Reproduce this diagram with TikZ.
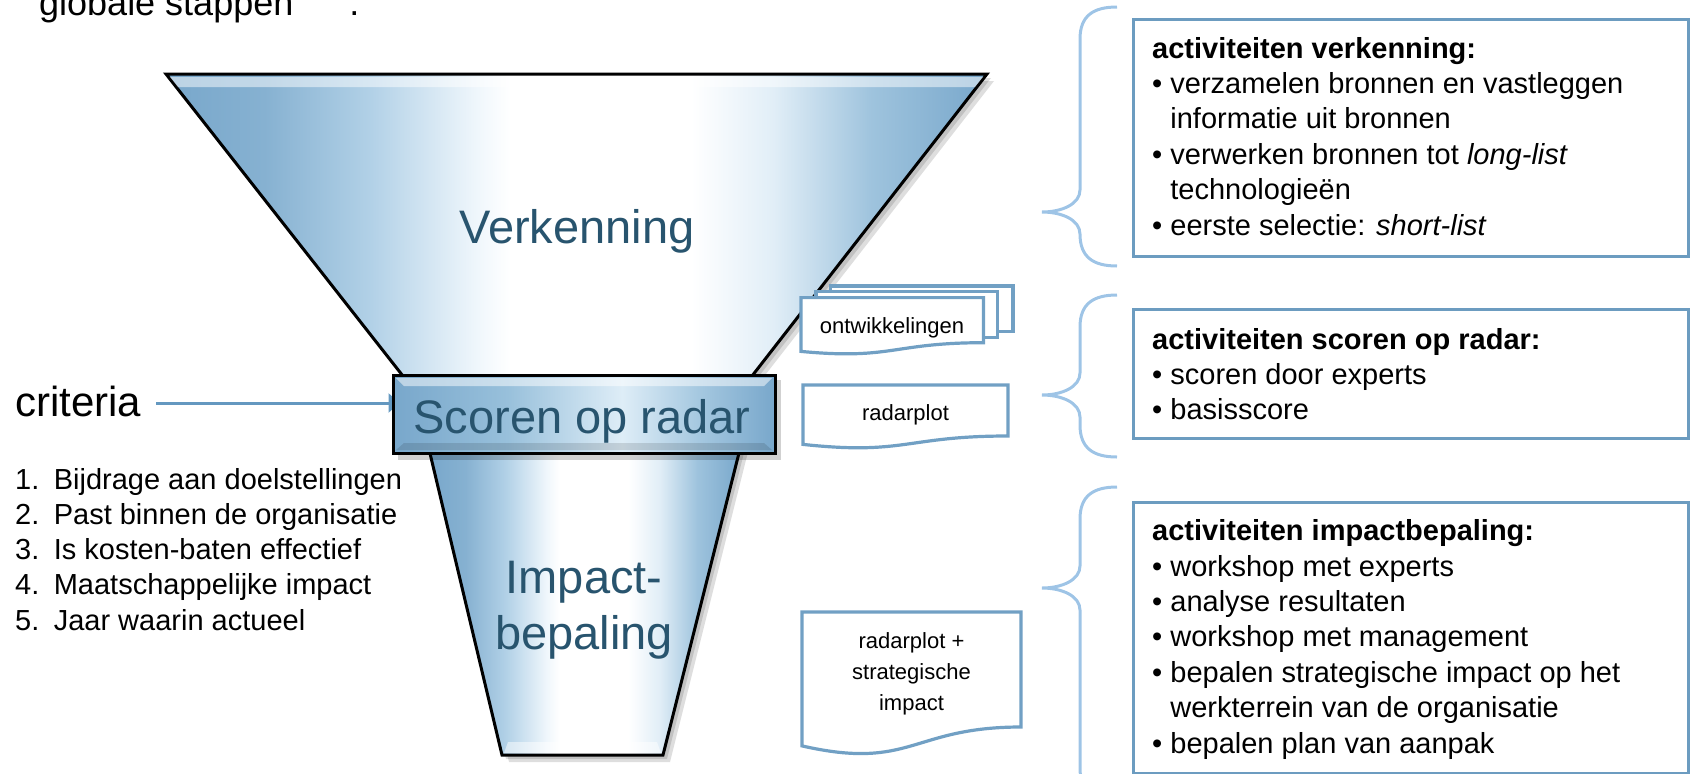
\documentclass[tikz,border=0pt]{standalone}
\usepackage{fontspec}
\setmainfont{Liberation Sans}
\usetikzlibrary{arrows.meta,backgrounds}
\definecolor{fEdge}{RGB}{120,167,203}
\definecolor{fA}{RGB}{134,177,209}
\definecolor{fB}{RGB}{178,209,231}
\definecolor{fC}{RGB}{240,247,252}
\definecolor{fD}{RGB}{225,238,247}
\definecolor{fE}{RGB}{158,195,221}
\definecolor{bA}{RGB}{152,192,219}
\definecolor{bB}{RGB}{222,237,247}
\definecolor{bC}{RGB}{165,200,224}
\definecolor{labelc}{RGB}{40,84,110}
\definecolor{docc}{RGB}{113,160,196}
\definecolor{boxc}{RGB}{108,156,192}
\definecolor{bracec}{RGB}{158,196,230}
\definecolor{arrc}{RGB}{100,152,192}
\pgfdeclarehorizontalshading{funnelshade}{100bp}{color(0bp)=(fEdge); color(25bp)=(fEdge); color(31bp)=(fA); color(37.5bp)=(fB); color(44bp)=(fC); color(46bp)=(white); color(57bp)=(white); color(62bp)=(fD); color(68bp)=(fE); color(75bp)=(fEdge); color(100bp)=(fEdge)}
\pgfdeclarehorizontalshading{bandshade}{100bp}{color(0bp)=(fEdge); color(25bp)=(fEdge); color(40bp)=(bA); color(55bp)=(bB); color(65bp)=(bC); color(75bp)=(fEdge); color(100bp)=(fEdge)}
\newcommand\bracedraw[3]{\draw[bracepath] (1117,#1) .. controls (1093,#1) and (1080,#1+9) .. (1080,#1+32) -- (1080,#2-22) .. controls (1080,#2-8) and (1062,#2) .. (1042,#2) .. controls (1062,#2) and (1080,#2+8) .. (1080,#2+22) -- (1080,#3-32) .. controls (1080,#3-9) and (1093,#3) .. (1117,#3);}
\newcommand\litem[1]{\makebox[38.6pt][l]{#1}}
\newcommand\bul{\textbullet\ }
\newcommand\ind{\phantom{\textbullet\ }}
\begin{document}
\begin{tikzpicture}[x=1pt,y=-1pt,
  lbl/.style={text=labelc, font=\fontsize{47}{56}\selectfont, inner sep=0pt},
  outl/.style={draw=black, line width=3pt, line join=miter},
  shadowA/.style={fill=black, fill opacity=0.13},
  bevL/.style={fill=white, fill opacity=0.5},
  bevD/.style={fill=black, fill opacity=0.12},
  doc/.style={draw=docc, line width=3.2pt, fill=white, line join=miter},
  doctext/.style={font=\fontsize{22}{31}\selectfont, inner sep=0pt, align=center},
  actbox/.style={draw=boxc, line width=3pt, inner sep=0pt, anchor=north west, minimum width=555pt},
  acttext/.style={font=\fontsize{29}{35.4}\selectfont, inner sep=0pt, align=left, anchor=base west},
  bracepath/.style={draw=bracec, line width=3pt},
  critarrow/.style={draw=arrc, line width=3pt, -{Triangle[length=11pt,width=19pt]}},
  plain/.style={inner sep=0pt},
  bandnode/.style={draw=black, line width=3pt, shade, shading=bandshade, inner sep=0pt, minimum width=382pt, minimum height=78pt}
]
\useasboundingbox (0,0) rectangle (1690,774);

% title (cut at top)
\node[plain, anchor=base west, font=\fontsize{36}{40}\selectfont] (title) at (39,15) {globale stappen”\hspace{44pt}.};

% criteria
\node[plain, anchor=base west, font=\fontsize{42}{50}\selectfont] (crit) at (15,416) {criteria};
\coordinate (cs) at ([xshift=15pt,yshift=13pt]crit.base east);

% shadows
\begin{scope}[shift={(4,4)}]
\fill[shadowA] (166,74) -- (987,74) -- (745,385) -- (410,385) -- cycle;
\fill[shadowA] (428,445) -- (741,445) -- (663,755) -- (502,755) -- cycle;
\end{scope}
\begin{scope}[shift={(7,7)}]
\fill[shadowA] (166,74) -- (987,74) -- (745,385) -- (410,385) -- cycle;
\fill[shadowA] (428,445) -- (741,445) -- (663,755) -- (502,755) -- cycle;
\end{scope}

% top funnel
\path[shade, shading=funnelshade, outl] (166,74) -- (987,74) -- (745,385) -- (410,385) -- cycle;
\fill[bevL] (170,77) -- (983,77) -- (975,87) -- (178,87) -- cycle;
% bottom funnel
\path[shade, shading=funnelshade, outl] (428,445) -- (741,445) -- (663,755) -- (502,755) -- cycle;
\fill[bevL] (504,753) -- (661,753) -- (657,742) -- (508,742) -- cycle;

% band
\fill[black, fill opacity=0.18] (398,380) rectangle (781,460);
\node[bandnode] (band) at (584,414) {};
\path (cs -| band.west) coordinate (ce);
\fill[bevL] (396,378) -- (772,378) -- (764,386) -- (404,386) -- cycle;
\fill[bevD] (396,450) -- (772,450) -- (764,443) -- (404,443) -- cycle;

% criteria arrow, tip hidden under the band
\begin{pgfonlayer}{background}
\draw[critarrow] (cs) -- ([xshift=8pt]ce);
\end{pgfonlayer}

% labels
\node[lbl, anchor=base] (verk) at (577,243) {Verkenning};
\node[lbl, anchor=base] (scor) at (582,433) {Scoren op radar};
\node[lbl, anchor=base, align=center] (imp) at (584,649) {Impact-\\bepaling};

% criteria list (anchor = baseline of last line)
\node[plain, anchor=base west, align=left, font=\fontsize{29}{35.2}\selectfont] (crlist) at (15,630) {\litem{1.}Bijdrage aan doelstellingen\\\litem{2.}Past binnen de organisatie\\\litem{3.}Is kosten-baten effectief\\\litem{4.}Maatschappelijke impact\\\litem{5.}Jaar waarin actueel};

% documents
\begin{scope}[shift={(801,286)}]
\draw[doc] (29.2,0) rectangle (212,45.4);
\draw[doc] (15,5.7) rectangle (196.3,51.2);
\draw[doc] (0,11.6) -- (182.5,11.6) -- (182.5,56.7) .. controls (91.3,56.7) and (91.3,74.1) .. (0,65.4) -- cycle;
\end{scope}
\node[doctext, anchor=base] (ontw) at (892,333) {ontwikkelingen};

\begin{scope}[shift={(803,385)}]
\draw[doc] (0,0) -- (205,0) -- (205,51) .. controls (102.5,51) and (102.5,70.4) .. (0,59.4) -- cycle;
\end{scope}
\node[doctext, anchor=base] (radar) at (905.5,420) {radarplot};

\begin{scope}[shift={(802,612)}]
\draw[doc] (0,0) -- (219,0) -- (219,115) .. controls (109.5,115) and (109.5,158.8) .. (0,133.9) -- cycle;
\end{scope}
\node[doctext, anchor=base] (radstrat) at (911.5,710) {radarplot +\\strategische\\impact};

% braces
\bracedraw{7}{212}{266}
\bracedraw{295}{395}{457}
\bracedraw{487}{588}{800}

% activity boxes
\node[actbox, minimum height=237pt] (box1) at (1132,18) {};
\node[actbox, minimum height=129pt] (box2) at (1132,308) {};
\node[actbox, minimum height=271pt] (box3) at (1132,501) {};

\node[acttext] (t1) at (1152,235) {\textbf{activiteiten verkenning:}\\\bul verzamelen bronnen en vastleggen\\\ind informatie uit bronnen\\\bul verwerken bronnen tot \textit{long-list}\\\ind technologieën\\\bul eerste selectie: \textit{short-list}};
\node[acttext, font=\fontsize{29}{35}\selectfont] (t2) at (1152,419) {\textbf{activiteiten scoren op radar:}\\\bul scoren door experts\\\bul basisscore};
\node[acttext] (t3) at (1152,753) {\textbf{activiteiten impactbepaling:}\\\bul workshop met experts\\\bul analyse resultaten\\\bul workshop met management\\\bul bepalen strategische impact op het\\\ind werkterrein van de organisatie\\\bul bepalen plan van aanpak};
\end{tikzpicture}
\end{document}
